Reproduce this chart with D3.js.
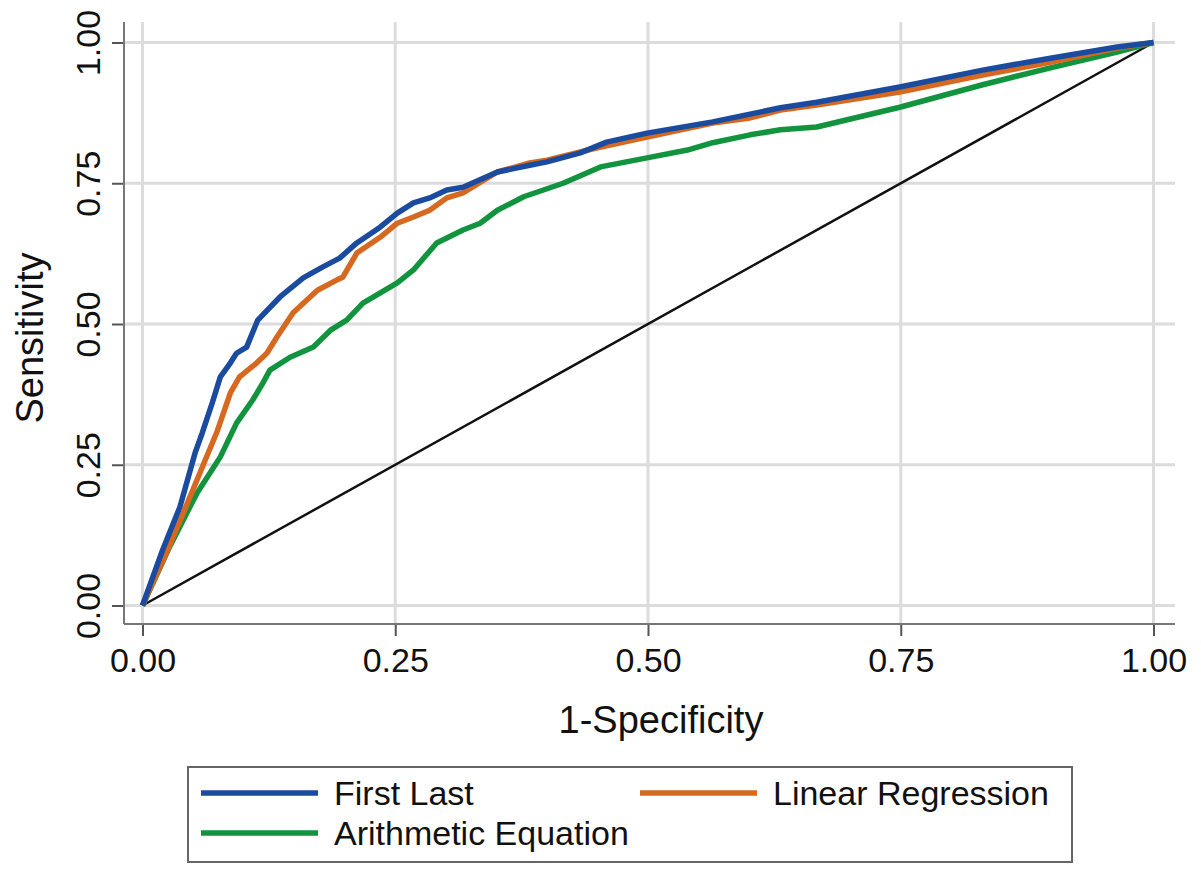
<!DOCTYPE html>
<html>
<head>
<meta charset="utf-8">
<script src="https://cdn.jsdelivr.net/npm/d3@7"></script>
<style>
  body { margin: 0; background: #fff; }
  text { font-family: "Liberation Sans", Arial, sans-serif; fill: #111; }
</style>
</head>
<body>
<svg id="chart" width="1201" height="872"></svg>
<script>
// ROC curves, values
const firstLastX = [0, 0.020, 0.037, 0.052, 0.059, 0.069, 0.077, 0.087, 0.093, 0.103, 0.114, 0.136, 0.159, 0.178, 0.195, 0.212, 0.235, 0.252, 0.268, 0.284, 0.301, 0.317, 0.351, 0.383, 0.400, 0.433, 0.459, 0.499, 0.564, 0.631, 0.667, 0.749, 0.831, 0.898, 0.964, 1];
const firstLastY = [0, 0.099, 0.175, 0.271, 0.306, 0.360, 0.406, 0.431, 0.448, 0.459, 0.507, 0.548, 0.582, 0.601, 0.617, 0.644, 0.672, 0.697, 0.715, 0.724, 0.738, 0.743, 0.770, 0.782, 0.788, 0.804, 0.823, 0.839, 0.859, 0.884, 0.894, 0.921, 0.951, 0.972, 0.992, 1];

const linRegX = [0, 0.024, 0.044, 0.059, 0.074, 0.087, 0.096, 0.113, 0.123, 0.133, 0.149, 0.173, 0.192, 0.198, 0.212, 0.235, 0.252, 0.268, 0.284, 0.301, 0.317, 0.351, 0.383, 0.400, 0.450, 0.499, 0.564, 0.601, 0.631, 0.667, 0.749, 0.831, 0.898, 0.964, 1];
const linRegY = [0, 0.095, 0.180, 0.245, 0.310, 0.378, 0.406, 0.431, 0.448, 0.477, 0.520, 0.560, 0.578, 0.583, 0.626, 0.654, 0.679, 0.690, 0.702, 0.724, 0.733, 0.770, 0.786, 0.791, 0.813, 0.832, 0.857, 0.866, 0.880, 0.889, 0.912, 0.942, 0.965, 0.990, 1];

const arithX = [0, 0.027, 0.054, 0.077, 0.093, 0.109, 0.119, 0.126, 0.146, 0.169, 0.186, 0.202, 0.218, 0.252, 0.268, 0.291, 0.317, 0.334, 0.351, 0.377, 0.416, 0.453, 0.499, 0.539, 0.564, 0.601, 0.631, 0.667, 0.749, 0.831, 0.898, 0.964, 1];
const arithY = [0, 0.105, 0.200, 0.264, 0.324, 0.365, 0.395, 0.418, 0.441, 0.459, 0.489, 0.507, 0.537, 0.573, 0.596, 0.644, 0.667, 0.679, 0.702, 0.726, 0.750, 0.779, 0.795, 0.809, 0.822, 0.836, 0.845, 0.850, 0.885, 0.925, 0.955, 0.983, 1];

const refX = [0, 1];
const refY = [0, 1];

const ticks = [0, 0.25, 0.5, 0.75, 1];
const seriesNames = ["First Last", "Linear Regression", "Arithmetic Equation"];
const seriesColors = ["#1b4b9e", "#d6691f", "#11943d"];

var svg = d3.select("#chart");

var x = d3.scaleLinear().domain([0, 1]).range([142.5, 1153.5]);
var y = d3.scaleLinear().domain([0, 1]).range([605.5, 42.5]);

var plotLeft = 124, plotRight = 1175, plotTop = 22, plotBottom = 624;

// grid
svg.append("g").selectAll("line.vg")
    .data(ticks).enter().append("line")
    .attr("x1", d => x(d)).attr("x2", d => x(d))
    .attr("y1", plotTop).attr("y2", plotBottom)
    .attr("stroke", "#dcdcdc").attr("stroke-width", 3);

svg.append("g").selectAll("line.hg")
    .data(ticks).enter().append("line")
    .attr("y1", d => y(d)).attr("y2", d => y(d))
    .attr("x1", plotLeft).attr("x2", plotRight)
    .attr("stroke", "#dcdcdc").attr("stroke-width", 3);

// axes
var xAxis = svg.append("g")
    .attr("transform", `translate(0,${plotBottom})`)
    .call(d3.axisBottom(x).tickValues(ticks).tickFormat(d3.format(".2f")).tickSize(12).tickSizeOuter(0));
xAxis.select(".domain").remove();
xAxis.append("line").attr("x1", plotLeft).attr("x2", plotRight)
    .attr("stroke", "#777").attr("stroke-width", 2);
xAxis.selectAll(".tick line").attr("stroke", "#555").attr("stroke-width", 2);
xAxis.selectAll(".tick text")
    .attr("y", 48).attr("dy", 0)
    .attr("font-size", 34)
    .style("font-family", "'Liberation Sans', Arial, sans-serif")
    .attr("fill", "#111");

var yAxis = svg.append("g")
    .attr("transform", `translate(${plotLeft},0)`)
    .call(d3.axisLeft(y).tickValues(ticks).tickFormat(d3.format(".2f")).tickSize(12).tickSizeOuter(0));
yAxis.select(".domain").remove();
yAxis.append("line").attr("y1", plotTop).attr("y2", plotBottom)
    .attr("stroke", "#777").attr("stroke-width", 2);
yAxis.selectAll(".tick line").attr("stroke", "#555").attr("stroke-width", 2);
yAxis.selectAll(".tick text")
    .attr("x", 0).attr("dy", 0).attr("y", 0)
    .attr("transform", "translate(-24,0) rotate(-90)")
    .attr("text-anchor", "middle")
    .attr("font-size", 34)
    .style("font-family", "'Liberation Sans', Arial, sans-serif")
    .attr("fill", "#111");

// axis titles
svg.append("text")
    .attr("x", 661).attr("y", 733)
    .attr("text-anchor", "middle")
    .attr("font-size", 38)
    .text("1-Specificity");

svg.append("text")
    .attr("transform", "translate(43,338) rotate(-90)")
    .attr("text-anchor", "middle")
    .attr("font-size", 38)
    .text("Sensitivity");

// curves
var line = d3.line().x(d => x(d[0])).y(d => y(d[1]));

svg.append("path")
    .datum(d3.zip(refX, refY))
    .attr("d", line)
    .attr("fill", "none").attr("stroke", "#111").attr("stroke-width", 2.5);

var curves = [
    d3.zip(arithX, arithY),
    d3.zip(linRegX, linRegY),
    d3.zip(firstLastX, firstLastY)
];
var curveColors = [seriesColors[2], seriesColors[1], seriesColors[0]];

svg.append("g").selectAll("path")
    .data(curves).enter().append("path")
    .attr("d", line)
    .attr("fill", "none")
    .attr("stroke", (d, i) => curveColors[i])
    .attr("stroke-width", 5.5)
    .attr("stroke-linejoin", "round");

// legend
var legend = svg.append("g");
legend.append("rect")
    .attr("x", 188).attr("y", 767)
    .attr("width", 884).attr("height", 95)
    .attr("fill", "#fff").attr("stroke", "#666").attr("stroke-width", 2);

var legendPos = [[201, 793], [640, 793], [201, 833]];
var items = legend.selectAll("g.item")
    .data(seriesNames).enter().append("g")
    .attr("transform", (d, i) => `translate(${legendPos[i][0]},${legendPos[i][1]})`);

items.append("line")
    .attr("x1", 0).attr("x2", 117)
    .attr("stroke", (d, i) => seriesColors[i])
    .attr("stroke-width", 5.5);

items.append("text")
    .attr("x", 133).attr("y", 12)
    .attr("font-size", 34)
    .text(d => d);
</script>
</body>
</html>
